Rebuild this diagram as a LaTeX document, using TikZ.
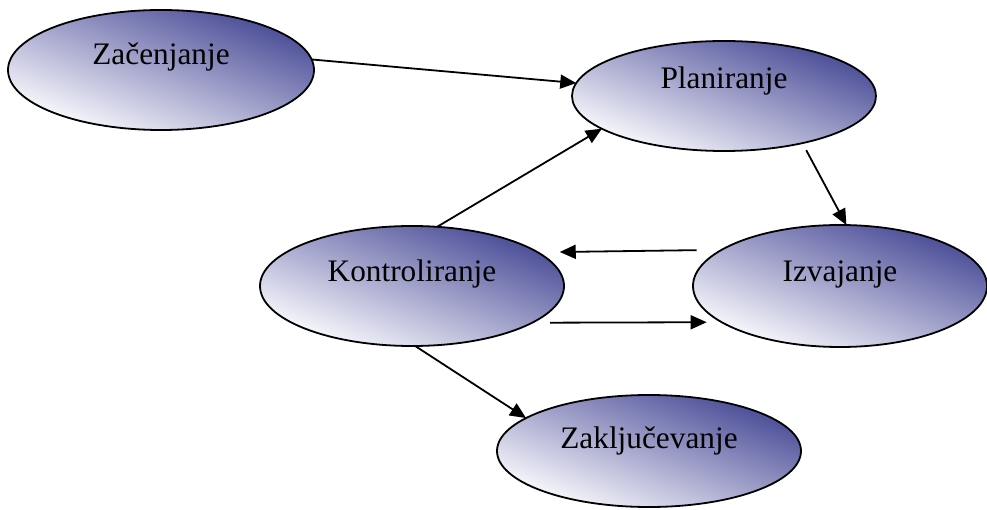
\documentclass[tikz,border=0pt]{standalone}
\usepackage{fontspec}
\setmainfont{Liberation Serif}
\usetikzlibrary{arrows.meta,shapes.geometric}
\definecolor{phasedark}{RGB}{72,74,150}
\definecolor{phaselight}{RGB}{252,252,255}
\begin{document}
\begin{tikzpicture}[x=1pt,y=-1pt,
  phase/.style={ellipse, draw=black, line width=1.8pt, inner sep=0pt, outer sep=0pt,
    top color=phasedark, bottom color=phaselight, shading angle=-21.5,
    font=\fontsize{31.3}{37}\selectfont, text height=20pt, text depth=30pt},
  flow/.style={line width=1.8pt, -{Triangle[length=16pt,width=14pt]}}]
\useasboundingbox (0,0) rectangle (987,510);

% project phases
\node[phase, minimum width=306pt, minimum height=120pt] (zac) at (161,70) {Začenjanje};
\node[phase, minimum width=304pt, minimum height=110pt, text depth=34pt] (plan) at (724,96) {Planiranje};
\node[phase, minimum width=304pt, minimum height=120pt, text depth=28pt] (kontr) at (412,286) {Kontroliranje};
\node[phase, minimum width=294pt, minimum height=122pt, text depth=28pt] (izv) at (840,286) {Izvajanje};
\node[phase, minimum width=304pt, minimum height=112pt, text depth=26pt] (zak) at (649,451) {Zaključevanje};

% transitions between phases
\draw[flow] (zac.4.5) -- (plan.175);
\draw[flow] (kontr.67.4) -- (plan.195.3);
\draw[flow, shorten <=8pt] (plan.-31.6) -- (izv.84.3);
\draw[flow, shorten <=25pt, shorten >=22pt] (izv.163.8) -- (kontr.15.8);
\draw[flow, shorten <=18pt, shorten >=15pt] (kontr.-17.2) -- (izv.197.6);
\draw[flow] (kontr.-87) -- (zak.165.9);
\end{tikzpicture}
\end{document}
